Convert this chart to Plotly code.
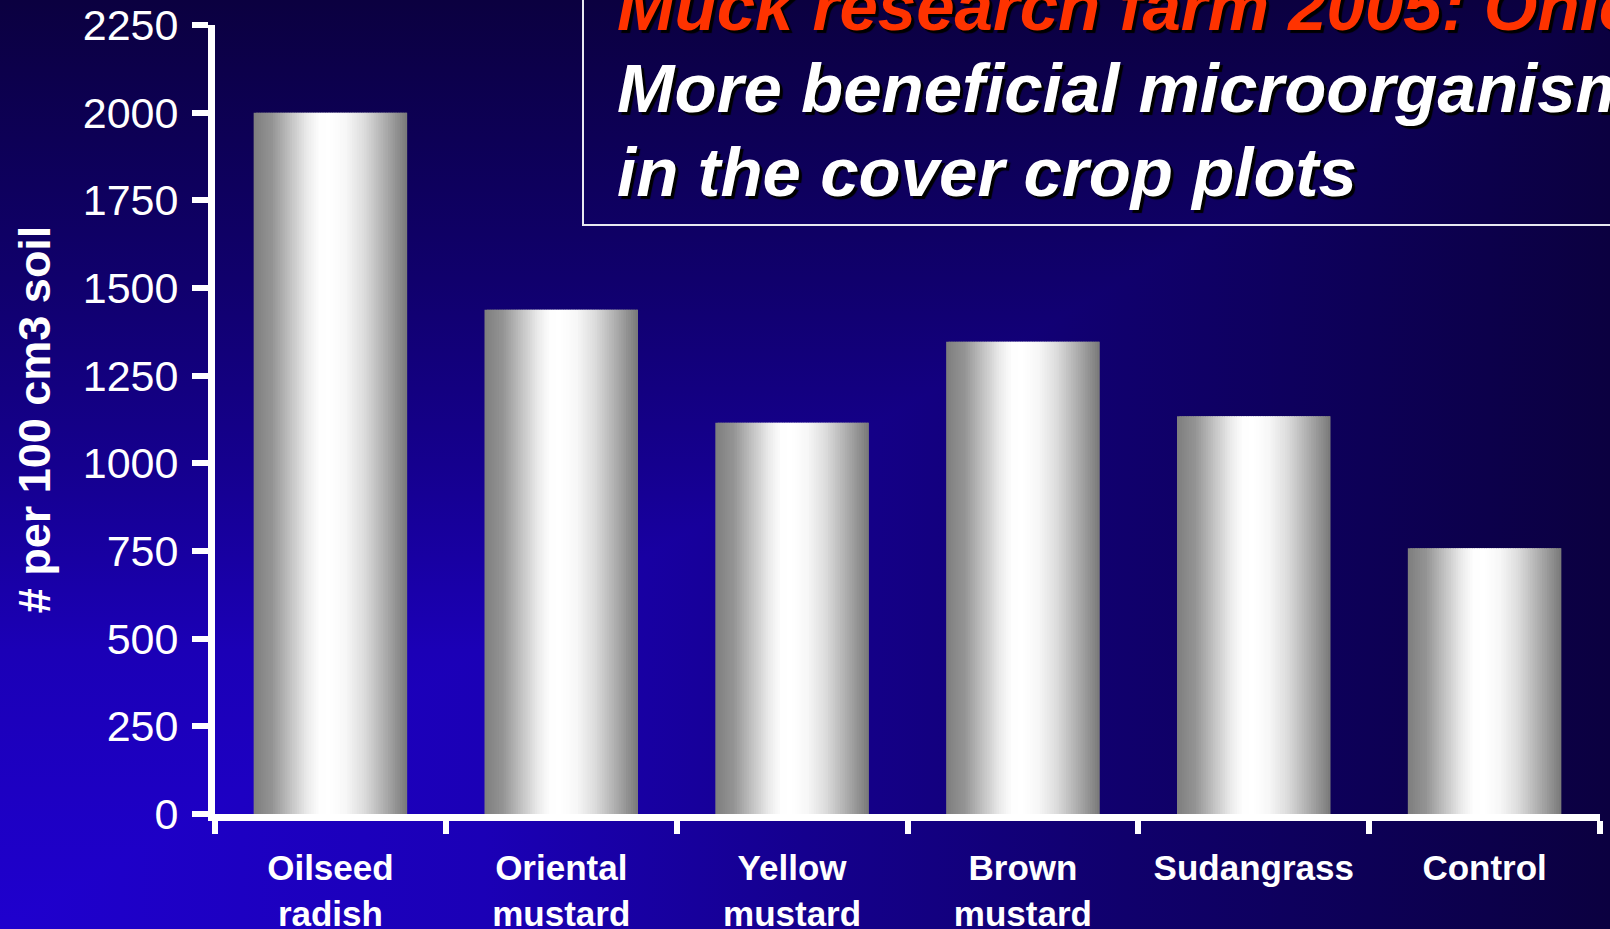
import base64
import plotly.graph_objects as go

# ---------------- data ----------------
categories = ["Oilseed<br>radish", "Oriental<br>mustard", "Yellow<br>mustard",
              "Brown<br>mustard", "Sudangrass", "Control"]
values = [2000, 1438, 1116, 1347, 1134, 758]
y_tickvals = [0, 250, 500, 750, 1000, 1250, 1500, 1750, 2000, 2250]
y_title = "# per 100 cm3 soil"
title_line1 = "Muck research farm 2005: Onions"
title_line2 = "More beneficial microorganisms"
title_line3 = "in the cover crop plots"

# ---------------- geometry ----------------
W, H = 1610, 929
L, R, T, B = 215, 10, 25, 115
PW = W - L - R
PH = H - T - B


def px_x(px):
    return (px - L) / PW


def px_y(py):
    return 1 - (py - T) / PH


def interp(stops, f):
    for (a, ca), (b, cb) in zip(stops, stops[1:]):
        if a <= f <= b:
            k = (f - a) / (b - a) if b > a else 0
            return ca + (cb - ca) * k
    return stops[-1][1]


# ---------------- background (rectangular "from corner" gradient) ----------------
bg_stops = [(0.0, (31, 0, 206)), (0.3, (27, 0, 182)), (0.5, (21, 0, 142)),
            (0.7, (16, 0, 108)), (0.85, (13, 0, 86)), (1.0, (11, 0, 64))]


def stop_tags(stops):
    return "".join(
        f"<stop offset='{o}' stop-color='rgb({c[0]},{c[1]},{c[2]})'/>" for o, c in stops)


svg = (
    f"<svg xmlns='http://www.w3.org/2000/svg' width='{W}' height='{H}' "
    f"viewBox='0 0 {W} {H}' preserveAspectRatio='none'>"
    f"<defs><linearGradient id='h' gradientUnits='userSpaceOnUse' x1='0' y1='0' x2='{W}' y2='0'>"
    f"{stop_tags(bg_stops)}</linearGradient>"
    f"<linearGradient id='v' gradientUnits='userSpaceOnUse' x1='0' y1='{H}' x2='0' y2='0'>"
    f"{stop_tags(bg_stops)}</linearGradient></defs>"
    f"<rect x='0' y='0' width='{W}' height='{H}' fill='url(#h)'/>"
    f"<polygon points='0,0 {W},0 0,{H}' fill='url(#v)'/>"
    f"</svg>"
)
bg_src = "data:image/svg+xml;base64," + base64.b64encode(svg.encode()).decode()

# ---------------- bars: metallic horizontal gradient built from stripes ----------------
bar_stops = [(0.0, 126), (0.12, 148), (0.24, 194), (0.35, 235), (0.43, 254),
             (0.5, 255), (0.6, 247), (0.72, 220), (0.83, 182), (0.92, 150), (1.0, 120)]
BAR_W = 0.665
N = 64
step = BAR_W / N

fig = go.Figure()
for i in range(N):
    start = -BAR_W / 2 + i * step
    w = min(step * 1.8, BAR_W / 2 - start)
    g = int(round(interp(bar_stops, (i + 0.5) / N)))
    fig.add_trace(go.Bar(
        x=categories, y=values, width=w, offset=start,
        marker=dict(color=f"rgb({g},{g},{g})", line=dict(width=0)),
        hoverinfo="skip", showlegend=False,
    ))

TF = 69
title_font = dict(family="Liberation Sans", size=TF, weight="bold", style="italic",
                  shadow="3px 3px 1px #000000")

annotations = []
for txt, color, baseline in [(title_line1, "#ff3300", 31),
                             (title_line2, "#ffffff", 113),
                             (title_line3, "#ffffff", 197)]:
    annotations.append(dict(
        text=txt, xref="paper", yref="paper", x=px_x(617), y=px_y(baseline - 0.35 * TF),
        xanchor="left", yanchor="middle", showarrow=False,
        font=dict(title_font, color=color), borderpad=0, borderwidth=0,
    ))

fig.update_layout(
    width=W, height=H,
    margin=dict(l=L, r=R, t=T, b=B, pad=0),
    paper_bgcolor="rgb(20,0,130)",
    plot_bgcolor="rgba(0,0,0,0)",
    barmode="overlay",
    showlegend=False,
    font=dict(family="Liberation Sans", color="white"),
    images=[dict(source=bg_src, xref="paper", yref="paper",
                 x=px_x(0), y=px_y(0), sizex=W / PW, sizey=H / PH,
                 xanchor="left", yanchor="top", sizing="stretch", layer="below")],
    shapes=[dict(type="rect", xref="paper", yref="paper",
                 x0=px_x(583), x1=px_x(1640), y0=px_y(225), y1=px_y(-20),
                 line=dict(color="#e8e8f0", width=2), fillcolor="rgba(0,0,0,0)",
                 layer="above")],
    annotations=annotations,
    xaxis=dict(
        type="category", range=[-0.5, 5.5], tickson="boundaries",
        showline=True, linecolor="white", linewidth=7,
        ticks="outside", ticklen=13, tickwidth=6, tickcolor="white",
        tickfont=dict(family="Liberation Sans", size=35, color="white", weight="bold"),
        ticklabelstandoff=17,
        showgrid=False, zeroline=False, automargin=False, fixedrange=True,
    ),
    yaxis=dict(
        range=[0, 2250], tickmode="array", tickvals=y_tickvals,
        showline=True, linecolor="white", linewidth=7,
        ticks="outside", ticklen=16, tickwidth=6, tickcolor="white",
        tickfont=dict(family="Liberation Sans", size=43, color="white"),
        ticklabelstandoff=5,
        title=dict(text=y_title, standoff=20,
                   font=dict(family="Liberation Sans", size=45, color="white", weight="bold")),
        showgrid=False, zeroline=False, automargin=False, fixedrange=True,
    ),
)

fig.write_html("out.html")
